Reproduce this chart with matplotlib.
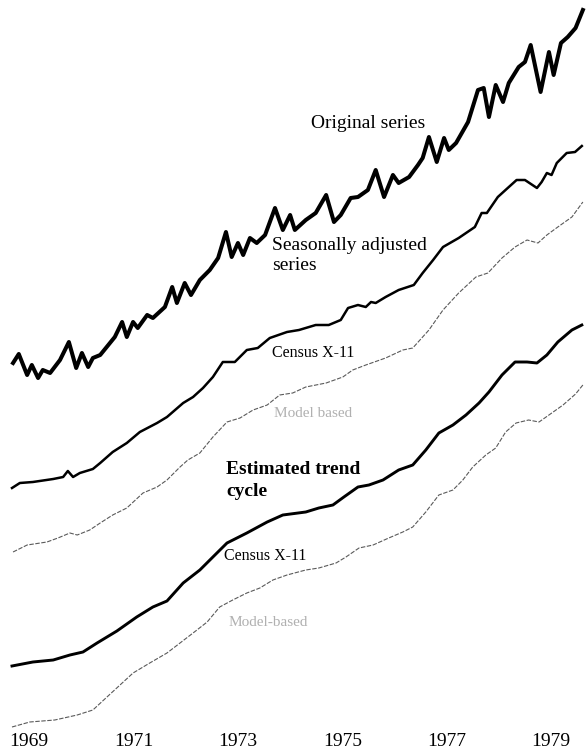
import matplotlib
matplotlib.use("Agg")
import matplotlib.pyplot as plt

# ---- data (decimal years, index units) ----
orig_t = [1969.02, 1969.13, 1969.29, 1969.38, 1969.50, 1969.59, 1969.73, 1969.92,
          1970.09, 1970.23, 1970.34, 1970.46, 1970.55, 1970.69, 1970.97, 1971.11,
          1971.20, 1971.32, 1971.41, 1971.59, 1971.70, 1971.93, 1972.07, 1972.16,
          1972.31, 1972.43, 1972.60, 1972.79, 1972.95, 1973.10, 1973.21, 1973.33,
          1973.43, 1973.56, 1973.69, 1973.85, 1974.04, 1974.19, 1974.33, 1974.42,
          1974.63, 1974.82, 1975.02, 1975.17, 1975.30, 1975.49, 1975.63, 1975.82,
          1975.97, 1976.13, 1976.30, 1976.41, 1976.61, 1976.78, 1976.87, 1976.99,
          1977.14, 1977.28, 1977.37, 1977.51, 1977.74, 1977.93, 1978.04, 1978.14,
          1978.27, 1978.41, 1978.52, 1978.71, 1978.83, 1978.94, 1979.13, 1979.29,
          1979.38, 1979.52, 1979.65, 1979.80, 1979.94]
orig_v = [38.9, 39.8, 37.7, 38.7, 37.4, 38.2, 37.9, 39.2,
          41.0, 38.4, 39.9, 38.5, 39.4, 39.7, 41.5, 43.0,
          41.5, 43.0, 42.4, 43.7, 43.4, 44.5, 46.5, 44.9,
          46.9, 45.7, 47.2, 48.2, 49.4, 52.0, 49.5, 50.9,
          49.7, 51.4, 50.9, 51.7, 54.4, 52.2, 53.7, 52.2,
          53.2, 53.9, 55.7, 53.0, 53.7, 55.4, 55.5, 56.2,
          58.2, 55.5, 57.7, 56.9, 57.5, 58.7, 59.4, 61.5,
          59.0, 61.4, 60.2, 60.9, 63.0, 66.2, 66.4, 63.5,
          66.7, 65.0, 66.9, 68.5, 69.0, 70.7, 66.0, 70.0,
          67.7, 70.9, 71.5, 72.4, 74.2]

sa_x11_t = [1969.00, 1969.15, 1969.40, 1969.79, 1969.98, 1970.07, 1970.17, 1970.30,
            1970.55, 1970.69, 1970.93, 1971.20, 1971.45, 1971.78, 1971.97, 1972.28,
            1972.47, 1972.66, 1972.85, 1973.04, 1973.27, 1973.50, 1973.71, 1973.94,
            1974.27, 1974.50, 1974.82, 1975.07, 1975.30, 1975.44, 1975.63, 1975.78,
            1975.88, 1975.97, 1976.16, 1976.41, 1976.70, 1976.87, 1977.07, 1977.26,
            1977.56, 1977.87, 1978.00, 1978.10, 1978.31, 1978.50, 1978.67, 1978.83,
            1979.06, 1979.15, 1979.25, 1979.34, 1979.44, 1979.63, 1979.79, 1979.92]
sa_x11_v = [26.4, 26.9, 27.0, 27.3, 27.5, 28.1, 27.5, 27.9,
            28.3, 28.9, 30.0, 30.9, 32.0, 32.9, 33.5, 34.9,
            35.5, 36.4, 37.5, 39.0, 39.0, 40.2, 40.4, 41.4,
            42.0, 42.2, 42.7, 42.7, 43.2, 44.4, 44.7, 44.5,
            45.0, 44.9, 45.5, 46.2, 46.7, 47.9, 49.2, 50.5,
            51.4, 52.5, 53.9, 53.9, 55.5, 56.4, 57.2, 57.2,
            56.4, 57.0, 57.9, 57.7, 58.9, 59.9, 60.0, 60.6]

sa_model_t = [1969.02, 1969.29, 1969.67, 1969.88, 1970.11, 1970.25, 1970.49, 1970.69,
              1970.93, 1971.20, 1971.51, 1971.78, 1971.97, 1972.22, 1972.37, 1972.60,
              1972.85, 1973.12, 1973.37, 1973.62, 1973.89, 1974.13, 1974.38, 1974.63,
              1975.02, 1975.34, 1975.53, 1975.78, 1976.16, 1976.49, 1976.68, 1976.99,
              1977.26, 1977.56, 1977.89, 1978.12, 1978.39, 1978.64, 1978.87, 1979.08,
              1979.25, 1979.46, 1979.73, 1979.94]
sa_model_v = [20.0, 20.7, 21.0, 21.4, 21.9, 21.7, 22.2, 22.9,
              23.7, 24.4, 25.9, 26.5, 27.2, 28.5, 29.2, 29.9,
              31.5, 33.0, 33.4, 34.2, 34.7, 35.7, 35.9, 36.5,
              36.9, 37.5, 38.2, 38.7, 39.4, 40.2, 40.4, 42.2,
              44.2, 45.9, 47.5, 47.9, 49.4, 50.5, 51.2, 50.9,
              51.7, 52.5, 53.5, 55.0]

tc_x11_t = [1969.00, 1969.40, 1969.79, 1970.11, 1970.36, 1970.63, 1971.01, 1971.39,
            1971.70, 1971.97, 1972.28, 1972.60, 1972.85, 1973.12, 1973.50, 1973.89,
            1974.19, 1974.63, 1974.88, 1975.15, 1975.36, 1975.63, 1975.84, 1976.11,
            1976.41, 1976.68, 1976.93, 1977.18, 1977.45, 1977.70, 1977.95, 1978.14,
            1978.39, 1978.64, 1978.87, 1979.06, 1979.25, 1979.46, 1979.73, 1979.92]
tc_x11_v = [8.6, 9.0, 9.2, 9.7, 10.0, 10.9, 12.1, 13.5,
            14.5, 15.1, 16.9, 18.2, 19.5, 20.9, 21.9, 23.0,
            23.7, 24.0, 24.4, 24.7, 25.5, 26.5, 26.7, 27.2,
            28.2, 28.7, 30.2, 31.9, 32.7, 33.7, 34.9, 36.0,
            37.7, 39.0, 39.0, 38.9, 39.7, 41.0, 42.2, 42.7]

tc_model_t = [1969.00, 1969.34, 1969.82, 1970.25, 1970.55, 1970.82, 1971.07, 1971.32,
              1971.64, 1971.97, 1972.22, 1972.47, 1972.74, 1972.98, 1973.23, 1973.50,
              1973.75, 1974.00, 1974.27, 1974.63, 1974.88, 1975.21, 1975.40, 1975.65,
              1975.92, 1976.22, 1976.49, 1976.68, 1976.93, 1977.18, 1977.45, 1977.64,
              1977.83, 1978.08, 1978.27, 1978.46, 1978.66, 1978.90, 1979.10, 1979.29,
              1979.56, 1979.80, 1979.94]
tc_model_v = [2.5, 3.0, 3.2, 3.7, 4.2, 5.5, 6.7, 7.9,
              8.9, 9.9, 10.9, 11.9, 13.0, 14.5, 15.2, 15.9,
              16.4, 17.2, 17.7, 18.2, 18.4, 18.9, 19.5, 20.4,
              20.7, 21.4, 22.0, 22.5, 24.0, 25.7, 26.2, 27.2,
              28.5, 29.7, 30.4, 32.0, 32.9, 33.2, 33.0, 33.7,
              34.7, 35.8, 36.7]

years = [1969, 1971, 1973, 1975, 1977, 1979]
year_labels = [str(y) for y in years]

# ---- figure ----
fig = plt.figure(figsize=(5.86, 7.52), dpi=100)
ax = fig.add_axes([0, 0, 1, 1])
ax.set_xlim(1968.77, 1980.0)
ax.set_ylim(0, 75.2)
ax.axis("off")

serif = ["Liberation Serif", "DejaVu Serif"]
thin_style = dict(color="#5a5a5a", lw=0.8, ls=(0, (4, 1.4)))

ax.plot(orig_t, orig_v, color="black", lw=2.9, solid_joinstyle="round")
ax.plot(sa_x11_t, sa_x11_v, color="black", lw=1.8, solid_joinstyle="round")
ax.plot(sa_model_t, sa_model_v, **thin_style)
ax.plot(tc_x11_t, tc_x11_v, color="black", lw=2.1, solid_joinstyle="round")
ax.plot(tc_model_t, tc_model_v, **thin_style)

# series labels
ax.text(1975.82, 75.2 - 12.4, "Original series", family=serif, fontsize=14,
        ha="center", va="center", color="black")
ax.text(1973.99, 75.2 - 24.5, "Seasonally adjusted", family=serif, fontsize=14,
        ha="left", va="center", color="black")
ax.text(1973.99, 75.2 - 26.6, "series", family=serif, fontsize=14,
        ha="left", va="center", color="black")
ax.text(1973.99, 75.2 - 35.3, "Census X-11", family=serif, fontsize=11.5,
        ha="left", va="center", color="black")
ax.text(1974.03, 75.2 - 41.4, "Model based", family=serif, fontsize=11,
        ha="left", va="center", color="#b0b0b0")
ax.text(1973.10, 75.2 - 47.0, "Estimated trend", family=serif, fontsize=14,
        fontweight="bold", ha="left", va="center", color="black")
ax.text(1973.10, 75.2 - 49.1, "cycle", family=serif, fontsize=14,
        fontweight="bold", ha="left", va="center", color="black")
ax.text(1973.06, 75.2 - 55.6, "Census X-11", family=serif, fontsize=11.5,
        ha="left", va="center", color="black")
ax.text(1973.14, 75.2 - 62.2, "Model-based", family=serif, fontsize=11,
        ha="left", va="center", color="#b0b0b0")

# year labels along the bottom
for y, lab in zip(years, year_labels):
    ax.text(y + 0.33, 75.2 - 74.2, lab, family=serif, fontsize=14,
            ha="center", va="center", color="black")

fig.savefig("out.png", dpi=100)
